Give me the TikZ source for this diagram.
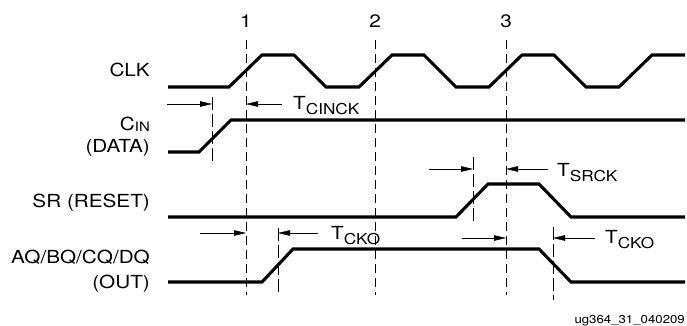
\documentclass[tikz,border=0pt]{standalone}
\usepackage{fontspec}
\setmainfont[FakeStretch=1.15]{TeX Gyre Heros}
\usetikzlibrary{arrows.meta}
\tikzset {
  >={Triangle[length=12pt,width=5.5pt]},
  every node/.style={font=\fontsize{18}{20}\selectfont,inner sep=0pt},
  sig/.style={line width=3.1pt},
  edgeline/.style={line width=0.9pt,dash pattern=on 9pt off 5pt},
  tickline/.style={line width=0.9pt,dash pattern=on 13pt off 4pt},
}
\newcommand{\tname}[1]{T\raisebox{-5pt}{\fontsize{15}{15}\selectfont #1}}

\begin{document}
\begin{tikzpicture}[x=1pt,y=-1pt]
  \useasboundingbox (0,0) rectangle (687,326);
  % signal names
  \node[anchor=base east] (clk) at (150,77) {CLK};
  \node[anchor=base east] (cin) at (150,130) {C\raisebox{-1.5pt}{\fontsize{13}{13}\selectfont IN}};
  \node[anchor=base east] (data) at (150,152) {(DATA)};
  \node[anchor=base east] (sr) at (150,207) {SR (RESET)};
  \node[anchor=base east] (out) at (150,263) {AQ/BQ/CQ/DQ};
  \node[anchor=base east] (outb) at (150,288) {(OUT)};
  % clock edges
  \foreach \n/\x in {1/246,2/375,3/506} {
    \node[anchor=base] (n\n) at (\x,28) {\n};
    \coordinate (e\n) at (\x,40);
    \draw[edgeline] (e\n) -- ++(0,255);
  }
  % waveforms
  \draw[sig] (168,87) \foreach \k in {0,1,2} {
      -- ({229+130*\k},87) -- ({262+130*\k},55) -- ({294+130*\k},55) -- ({326+130*\k},87)
    } -- (619,87) -- (652,55) -- (685,55);
  \draw[sig] (168,152) -- (199,152) -- (231,120) -- (685,120);
  \draw[sig] (168,217) -- (456,217) -- (488,184) -- (539,184) -- (571,217) -- (685,217);
  \draw[sig] (168,282) -- (262,282) -- (293,249) -- (539,249) -- (571,282) -- (685,282);
  % setup / clock-to-out markers
  \coordinate (s1) at (212,97);
  \coordinate (s2) at (473,157);
  \coordinate (s3) at (278,228);
  \coordinate (s4) at (553,227);
  \draw[tickline] (s1) -- ++(0,65);
  \draw[tickline] (s2) -- ++(0,65);
  \draw[tickline] (s3) -- ++(0,64);
  \draw[tickline] (s4) -- ++(0,73);
  % timing labels
  \node[anchor=base west] (tcinck) at (293,110) {\tname{CINCK}};
  \node[anchor=base west] (tsrck) at (557,176) {\tname{SRCK}};
  \node[anchor=base west] (tcko) at (331,239) {\tname{CKO}};
  \node[anchor=base west] (tckob) at (605,243) {\tname{CKO}};
  \draw[->] (167,104) -- (s1 |- 0,104);
  \draw[->] (282,104) -- (e1 |- 0,104);
  \draw[->] (429,169) -- (s2 |- 0,169);
  \draw[->] (548,169) -- (e3 |- 0,169);
  \draw[->] (200,233) -- (e1 |- 0,233);
  \draw[->] (318,233) -- (s3 |- 0,233);
  \draw[->] (462,238) -- (e3 |- 0,238);
  \draw[->] (595,238) -- (s4 |- 0,238);
  \node[anchor=base east,font=\fontsize{11.5}{12}\selectfont] (fig) at (685,323) {ug364\_31\_040209};
\end{tikzpicture}
\end{document}
